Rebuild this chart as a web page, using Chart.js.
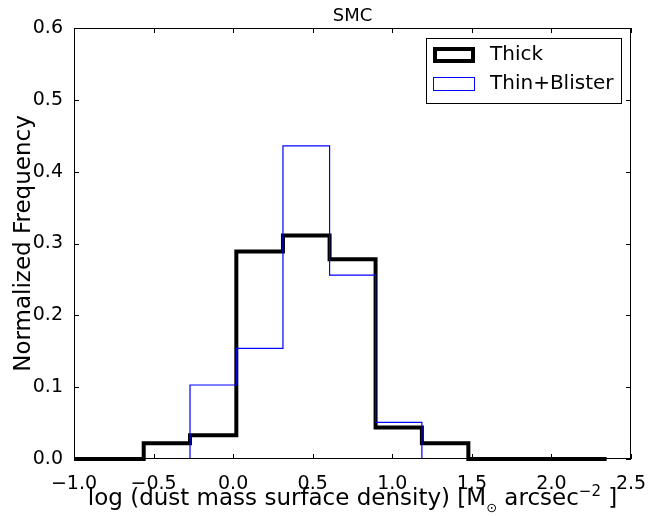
<!DOCTYPE html>
<html>
<head>
<meta charset="utf-8">
<script src="https://cdn.jsdelivr.net/npm/chart.js@4"></script>
<style>
  body { margin: 0; background: #fff; }
  canvas { display: block; }
</style>
</head>
<body>
<canvas id="smcChart" width="670" height="516"></canvas>
<script>
// bin edges + normalized frequencies
let thickEdges = [-1.146, -0.854, -0.562, -0.271, 0.020, 0.313, 0.606, 0.895, 1.186, 1.478, 1.769, 2.058, 2.347];
let thickValues = [0, 0, 0.022, 0.033, 0.289, 0.311, 0.278, 0.044, 0.022, 0, 0, 0];
let thinEdges = [-0.562, -0.271, 0.020, 0.313, 0.606, 0.895, 1.186, 1.478];
let thinValues = [0, 0.103, 0.154, 0.436, 0.256, 0.051, 0];
let xTicks = [-1.0, -0.5, 0.0, 0.5, 1.0, 1.5, 2.0, 2.5];
let yTicks = [0.0, 0.1, 0.2, 0.3, 0.4, 0.5, 0.6];

const FONT = '"DejaVu Sans", sans-serif';

// matplotlib style step outline
function stepPoints(edges, values) {
    var pts = [{ x: edges[0], y: 0 }];
    for (var i = 0; i < values.length; i++) {
        pts.push({ x: edges[i + 1], y: values[i] });
    }
    pts.push({ x: edges[edges.length - 1], y: 0 });
    return pts;
}

const framePlugin = {
    id: 'frame',
    afterDraw(chart) {
        const ctx = chart.ctx;
        const a = chart.chartArea;
        const xs = chart.scales.x, ys = chart.scales.y;
        ctx.save();
        // frame
        ctx.strokeStyle = '#000';
        ctx.lineWidth = 1;
        ctx.strokeRect(a.left + 0.5, a.top + 0.5, a.right - a.left - 1, a.bottom - a.top - 1);
        // inward ticks on all sides
        ctx.beginPath();
        xTicks.forEach(function (v) {
            var px = Math.round(xs.getPixelForValue(v)) + 0.5;
            ctx.moveTo(px, a.bottom); ctx.lineTo(px, a.bottom - 5);
            ctx.moveTo(px, a.top); ctx.lineTo(px, a.top + 5);
        });
        yTicks.forEach(function (v) {
            var py = Math.round(ys.getPixelForValue(v)) + 0.5;
            ctx.moveTo(a.left, py); ctx.lineTo(a.left + 5, py);
            ctx.moveTo(a.right, py); ctx.lineTo(a.right - 5, py);
        });
        ctx.stroke();

        // title
        ctx.fillStyle = '#000';
        ctx.font = '18px ' + FONT;
        ctx.textAlign = 'center';
        ctx.textBaseline = 'alphabetic';
        ctx.fillText('SMC', (a.left + a.right) / 2, 21);

        // y axis title
        ctx.save();
        ctx.translate(30, (a.top + a.bottom) / 2);
        ctx.rotate(-Math.PI / 2);
        ctx.font = '23px ' + FONT;
        ctx.fillText('Normalized Frequency', 0, 0);
        ctx.restore();

        // x axis title with sub/superscript
        var parts = [
            { t: 'log (dust mass surface density) [M', size: 23, dy: 0 },
            { t: '\u2299', size: 13, dy: 7 },
            { t: ' arcsec', size: 23, dy: 0 },
            { t: '\u22122', size: 15, dy: -9 },
            { t: ' ]', size: 23, dy: 0 }
        ];
        var total = 0;
        parts.forEach(function (p) {
            ctx.font = p.size + 'px ' + FONT;
            p.w = ctx.measureText(p.t).width;
            total += p.w;
        });
        var x = (a.left + a.right) / 2 - total / 2;
        ctx.textAlign = 'left';
        parts.forEach(function (p) {
            ctx.font = p.size + 'px ' + FONT;
            ctx.fillText(p.t, x, 505 + p.dy);
            x += p.w;
        });

        // legend
        var lx = 426, ly = 38, lw = 195, lh = 65;
        ctx.fillStyle = '#fff';
        ctx.fillRect(lx, ly, lw, lh);
        ctx.strokeStyle = '#000';
        ctx.lineWidth = 1;
        ctx.strokeRect(lx + 0.5, ly + 0.5, lw, lh);
        ctx.lineWidth = 4;
        ctx.strokeStyle = '#000';
        ctx.strokeRect(435, 49, 38, 12);
        ctx.lineWidth = 1;
        ctx.strokeStyle = '#0000ff';
        ctx.strokeRect(433.5, 77.5, 41, 13);
        ctx.fillStyle = '#000';
        ctx.font = '20px ' + FONT;
        ctx.textBaseline = 'middle';
        ctx.fillText('Thick', 490, 55);
        ctx.fillText('Thin+Blister', 490, 84);
        ctx.restore();
    }
};

var ctx = document.getElementById('smcChart').getContext('2d');
var myChart = new Chart(ctx, {
    type: 'line',
    data: {
        datasets: [{
            label: 'Thick',
            data: stepPoints(thickEdges, thickValues),
            stepped: 'after',
            borderColor: '#000000',
            borderWidth: 4,
            pointRadius: 0,
            fill: false,
            order: 2,
            clip: { left: 0, top: 5, right: 5, bottom: 5 }
        }, {
            label: 'Thin+Blister',
            data: stepPoints(thinEdges, thinValues),
            stepped: 'after',
            borderColor: '#0000ff',
            borderWidth: 1.2,
            pointRadius: 0,
            fill: false,
            order: 1
        }]
    },
    options: {
        responsive: false,
        animation: false,
        layout: { padding: { left: 0, top: 28, right: 39, bottom: 0 } },
        plugins: {
            legend: { display: false },
            tooltip: { enabled: false }
        },
        scales: {
            x: {
                type: 'linear',
                min: -1.0,
                max: 2.5,
                grid: { display: false },
                border: { display: false },
                afterFit: function (s) { s.height = 57; },
                afterBuildTicks: function (s) { s.ticks = xTicks.map(function (v) { return { value: v }; }); },
                ticks: {
                    padding: 6,
                    color: '#000',
                    font: { family: FONT, size: 19 },
                    maxRotation: 0,
                    callback: function (v) { return (v < 0 ? '\u2212' : '') + Math.abs(v).toFixed(1); }
                }
            },
            y: {
                min: 0,
                max: 0.6,
                grid: { display: false },
                border: { display: false },
                afterFit: function (s) { s.width = 74; },
                afterBuildTicks: function (s) { s.ticks = yTicks.map(function (v) { return { value: v }; }); },
                ticks: {
                    padding: 3,
                    color: '#000',
                    font: { family: FONT, size: 19 },
                    callback: function (v) { return v.toFixed(1); }
                }
            }
        }
    },
    plugins: [framePlugin]
});
</script>
</body>
</html>
